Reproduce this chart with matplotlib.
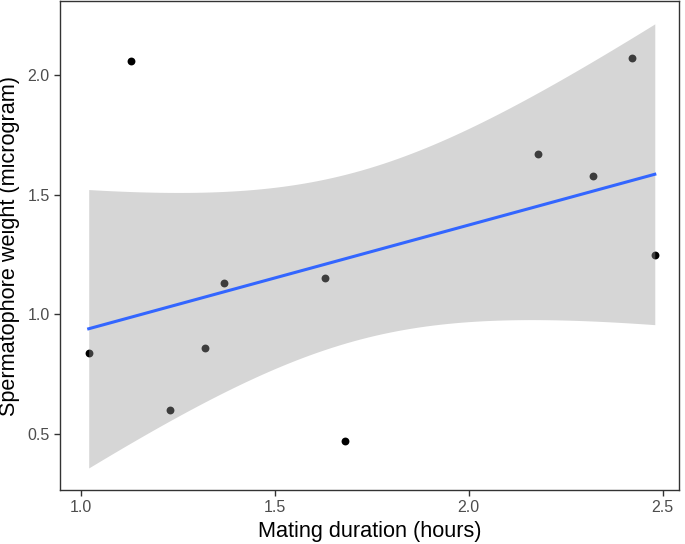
import numpy as np
import matplotlib
matplotlib.use('Agg')
import matplotlib.pyplot as plt

# mating duration (hours) vs spermatophore weight (microgram)
duration = [1.02, 1.13, 1.23, 1.32, 1.37, 1.63, 1.68, 2.18, 2.32, 2.42, 2.48]
weight = [0.84, 2.06, 0.60, 0.86, 1.13, 1.15, 0.47, 1.67, 1.58, 2.07, 1.25]

x = np.array(duration)
y = np.array(weight)

# linear fit + 95% confidence band (like geom_smooth(method='lm'))
n = len(x)
slope, icpt = np.polyfit(x, y, 1)
resid = y - (icpt + slope * x)
s = np.sqrt(np.sum(resid**2) / (n - 2))
sxx = np.sum((x - x.mean())**2)
t975 = 2.262  # t quantile, df = 9
xs = np.linspace(x.min(), x.max(), 80)
fit = icpt + slope * xs
se = s * np.sqrt(1 / n + (xs - x.mean())**2 / sxx)

plt.rcParams['font.family'] = ['Liberation Sans', 'DejaVu Sans']

fig = plt.figure(figsize=(6.85, 5.44), dpi=100)
ax = fig.add_axes([0.0876, 0.0993, 0.9034, 0.8987])

ax.scatter(x, y, s=32, color='black', zorder=1, linewidths=0)
ax.fill_between(xs, fit - t975 * se, fit + t975 * se, color='#999999', alpha=0.4,
                linewidth=0, zorder=2)
ax.plot(xs, fit, color='#3366FF', linewidth=2.2, zorder=3)

ax.set_xlim(0.946, 2.542)
ax.set_ylim(0.266, 2.309)
ax.set_xticks([1.0, 1.5, 2.0, 2.5])
ax.set_yticks([0.5, 1.0, 1.5, 2.0])
ax.tick_params(colors='#333333', labelcolor='#4D4D4D', labelsize=11.5,
               length=4, width=1)
for sp in ax.spines.values():
    sp.set_color('#333333')
    sp.set_linewidth(1)

ax.set_xlabel('Mating duration (hours)', fontsize=15.6, color='black', labelpad=4)
ax.set_ylabel('Spermatophore weight (microgram)', fontsize=15.6, color='black', labelpad=5)

fig.savefig('out.png', dpi=100)
